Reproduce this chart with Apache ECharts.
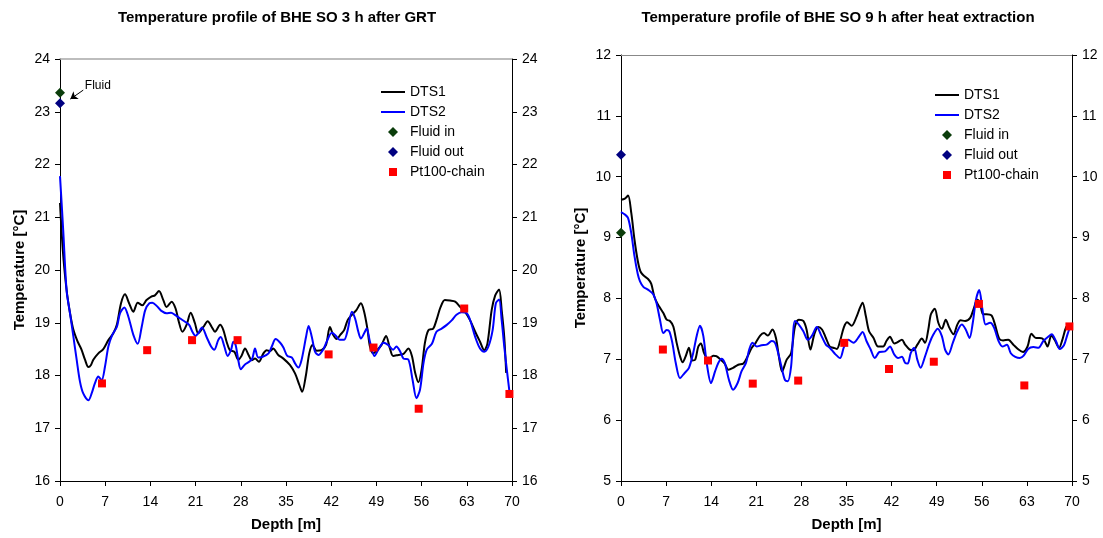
<!DOCTYPE html>
<html><head><meta charset="utf-8">
<script src="https://cdn.jsdelivr.net/npm/echarts@6/dist/echarts.min.js"></script>
<style>html,body{margin:0;padding:0;background:#fff}#c{width:1103px;height:538px}</style>
</head><body><div id="c"></div>
<script>
// ---------- DATA ----------
const titles = ['Temperature profile of BHE SO 3 h after GRT', 'Temperature profile of BHE SO 9 h after heat extraction'];
const legendNames = ['DTS1', 'DTS2', 'Fluid in', 'Fluid out', 'Pt100-chain'];
const depthTicks = [0, 7, 14, 21, 28, 35, 42, 49, 56, 63, 70];

// Left chart (3 h after GRT)
const dts1DepthA = [0,0.45,0.9,1.3,2.0,2.7,3.3,3.87,4.4,4.8,5.16,5.94,6.7,7.49,8.26,8.8,9.45,10.07,10.7,11.36,12.03,12.75,13.4,14.2,14.7,15.33,16.0,16.5,17.3,17.9,18.4,18.95,19.6,20.24,20.9,21.4,22.2,22.87,23.5,24.0,24.8,25.3,25.8,26.3,27.0,27.6,28.1,28.65,29.2,29.7,30.2,30.8,31.5,32.0,32.5,33.0,33.8,34.6,35.6,36.4,37.07,37.5,38.05,38.6,39.1,39.75,40.5,41.2,41.8,42.3,42.85,43.4,44.0,44.55,45.2,45.9,46.6,47.1,47.6,48.0,48.5,49.1,49.8,50.5,51.1,51.6,52.4,53.2,53.95,54.5,55.0,55.5,56.0,56.5,57.05,57.8,58.3,58.95,59.6,60.4,61.2,61.95,62.7,63.5,64.3,65.05,65.7,66.2,66.85,67.4,68.0,68.4,68.8,69.1];
const dts1TempA  = [21.27,20.35,19.75,19.37,18.9,18.65,18.5,18.3,18.16,18.2,18.3,18.42,18.5,18.67,18.8,18.96,19.37,19.54,19.37,19.21,19.38,19.33,19.43,19.5,19.52,19.6,19.43,19.3,19.4,19.27,19.02,18.83,18.96,19.19,18.99,18.8,18.92,19.03,18.92,18.83,18.96,18.86,18.64,18.48,18.45,18.3,18.37,18.51,18.39,18.29,18.32,18.26,18.42,18.48,18.46,18.51,18.39,18.32,18.2,18.04,17.82,17.69,17.98,18.42,18.58,18.47,18.48,18.58,18.92,18.77,18.69,18.77,18.86,19.05,19.15,19.24,19.37,19.21,18.89,18.55,18.42,18.48,18.58,18.75,18.51,18.37,18.39,18.41,18.51,18.37,18.05,17.87,18.11,18.61,18.86,18.89,19.05,19.3,19.43,19.42,19.4,19.3,19.21,19.05,18.83,18.64,18.48,18.61,19.24,19.52,19.63,19.24,18.73,18.05];
const dts2DepthA = [0,0.5,1.03,1.55,2.07,2.58,3.1,3.6,4.4,4.9,5.4,5.94,6.45,6.97,7.49,8.1,8.8,9.3,9.96,10.6,11.36,12.03,12.65,13.2,13.84,14.3,14.97,15.64,16.5,17.2,17.8,18.6,19.36,20.0,20.5,21.0,21.4,22.0,22.7,23.4,23.9,24.5,24.9,25.45,25.97,26.5,26.85,27.2,27.6,28.0,28.65,29.4,29.8,30.2,30.7,31.3,32.3,32.8,33.4,34.1,34.6,35.2,35.9,36.4,36.9,37.4,38.1,38.5,39.0,39.5,40.0,40.7,41.3,42.1,42.6,43.3,44.0,44.55,45.2,45.7,46.2,46.6,47.1,47.5,48.0,48.7,49.3,50.1,50.8,51.6,52.1,52.7,53.2,53.95,54.6,55.2,55.75,56.3,56.8,57.6,58.3,59.1,59.9,60.7,61.4,62.2,63.0,63.6,64.3,65.05,65.7,66.35,67.0,67.5,68.0,68.4,68.8,69.2,69.6];
const dts2TempA  = [21.78,20.75,19.6,19.18,18.74,18.3,17.88,17.66,17.53,17.66,17.85,17.98,17.91,18.17,18.55,18.77,18.92,19.18,19.29,19.11,18.77,18.6,18.92,19.24,19.37,19.38,19.32,19.23,19.18,19.19,19.15,19.08,19.02,18.96,18.83,18.75,18.8,18.91,18.73,18.55,18.49,18.67,18.73,18.55,18.37,18.49,18.64,18.58,18.3,18.12,18.21,18.27,18.33,18.51,18.34,18.35,18.42,18.55,18.69,18.62,18.53,18.37,18.34,18.23,18.15,18.29,18.73,18.94,18.73,18.45,18.39,18.48,18.64,18.81,18.77,18.68,18.68,18.86,19.21,19.08,18.83,18.7,18.8,18.89,18.64,18.37,18.49,18.62,18.58,18.49,18.55,18.45,18.32,18.3,17.92,17.57,17.73,18.24,18.49,18.6,18.83,18.89,18.96,19.05,19.15,19.2,19.18,19.02,18.73,18.51,18.45,18.55,18.86,19.37,19.44,19.05,18.55,18.11,17.7];
const fluidInA = 23.36;
const fluidOutA = 23.16;

// Right chart (9 h after heat extraction)
const dts1DepthB = [0,0.6,1.1,1.6,2.1,2.6,3.0,3.47,4.2,4.7,5.2,5.9,6.57,7.09,7.6,8.12,8.64,9.16,9.57,10.04,10.55,11.07,11.5,12.0,12.4,12.9,13.55,14.3,14.8,15.5,16.1,16.66,17.4,18.2,19.0,19.66,20.3,20.9,21.6,22.2,22.8,23.5,24.05,24.5,25.0,25.7,26.4,27.0,27.6,28.3,28.8,29.4,30.0,30.6,31.2,31.8,32.4,32.95,33.5,34.0,34.6,35.1,35.8,36.6,37.1,37.5,38.0,38.5,39.2,39.9,40.7,41.2,41.75,42.4,42.9,43.6,44.1,44.8,45.4,46.0,46.7,47.2,47.7,48.1,48.7,49.25,49.8,50.4,50.95,51.6,52.2,52.7,53.4,54.2,54.8,55.3,55.7,56.2,56.75,57.5,58.05,58.7,59.3,60.1,60.9,61.7,62.4,63.1,63.7,64.4,65.0,65.65,66.2,66.8,67.3,68.0,68.5,69.1,69.6];
const dts1TempB  = [9.62,9.64,9.69,9.4,8.96,8.62,8.45,8.38,8.32,8.24,8.02,7.87,7.76,7.65,7.63,7.54,7.27,7.05,6.95,7.05,7.19,6.98,6.99,7.21,7.26,7.1,6.99,7.06,7.05,6.99,6.93,6.83,6.86,6.91,6.93,7.05,7.19,7.27,7.39,7.43,7.39,7.49,7.35,7.05,6.8,6.99,7.1,7.54,7.65,7.63,7.49,7.16,7.41,7.53,7.49,7.35,7.21,7.19,7.17,7.3,7.53,7.61,7.55,7.71,7.85,7.93,7.71,7.46,7.35,7.21,7.21,7.3,7.37,7.26,7.28,7.32,7.24,7.16,7.15,7.24,7.34,7.27,7.49,7.74,7.83,7.6,7.5,7.65,7.52,7.41,7.57,7.64,7.63,7.68,7.85,7.98,7.93,7.74,7.74,7.72,7.57,7.34,7.31,7.32,7.24,7.16,7.12,7.21,7.42,7.35,7.35,7.32,7.21,7.39,7.32,7.19,7.32,7.53,7.57];
const dts2DepthB = [0,0.6,1.1,1.6,2.1,2.6,2.95,3.47,4.24,5.0,5.5,6.05,6.57,7.09,7.5,7.97,8.5,9.16,9.83,10.55,11.2,11.74,12.26,12.78,13.3,13.97,14.6,15.1,15.6,16.1,16.76,17.4,18.1,18.7,19.4,19.9,20.4,21.05,21.8,22.6,23.4,23.9,24.4,24.9,25.45,25.9,26.4,27.0,27.6,28.3,29.0,29.6,30.4,31.0,31.8,32.4,33.2,34.0,34.6,35.3,36.1,36.8,37.5,38.1,38.75,39.4,40.1,41.0,41.75,42.4,43.0,43.6,44.1,44.5,44.97,45.5,46.0,46.5,47.2,47.9,48.5,49.15,49.8,50.3,50.8,51.5,52.2,52.9,53.5,54.1,54.6,55.1,55.6,56.1,56.6,57.3,57.9,58.6,59.2,59.9,60.5,61.2,61.9,62.5,63.2,64.0,64.8,65.55,66.3,66.85,67.5,68.1,68.75,69.3,69.7];
const dts2TempB  = [9.42,9.38,9.32,9.07,8.69,8.4,8.28,8.19,8.14,8.07,7.93,7.65,7.43,7.48,7.46,7.27,6.94,6.69,6.77,6.86,7.1,7.38,7.55,7.38,6.94,6.61,6.8,6.94,7.01,6.94,6.66,6.5,6.61,6.8,6.94,7.16,7.27,7.21,7.23,7.24,7.3,7.27,7.1,6.88,6.66,6.64,6.88,7.63,7.57,7.46,7.32,7.38,7.53,7.41,7.24,7.19,7.09,7.02,7.2,7.32,7.27,7.35,7.45,7.3,7.16,7.02,7.12,7.13,7.21,7.08,7.02,7.04,6.94,6.93,7.1,7.19,6.99,6.86,7.05,7.27,7.41,7.5,7.38,7.16,7.08,7.27,7.46,7.57,7.49,7.35,7.6,7.98,8.14,7.82,7.57,7.6,7.52,7.3,7.21,7.24,7.1,7.04,7.02,7.06,7.17,7.2,7.19,7.3,7.37,7.41,7.3,7.17,7.23,7.41,7.53];
const fluidInB = 9.08;
const fluidOutB = 10.36;

// Pt100-chain sensors
const ptDepth = [6.5, 13.5, 20.45, 27.5, 34.65, 41.6, 48.55, 55.55, 62.6, 69.6];
const ptTempA = [17.85, 18.48, 18.67, 18.67, null, 18.4, 18.53, 17.37, 19.27, 17.65];
const ptTempB = [7.16, 6.98, 6.6, 6.65, 7.27, 6.84, 6.96, 7.91, 6.57, 7.54];

// ---------- CHART ----------
const FONT = '"Liberation Sans", Arial, sans-serif';
const zip = (xs, ys) => xs.map((x, i) => [x, ys[i]]);

const grids = [
  {left: 60, top: 59, width: 452, height: 422, yMin: 16, yMax: 24},
  {left: 621, top: 55, width: 451, height: 426, yMin: 5, yMax: 12}
];

const xAxes = [], yAxes = [];
grids.forEach((g, i) => {
  xAxes.push({
    gridIndex: i, type: 'value', position: 'bottom', min: 0, max: 70, interval: 7,
    axisLine: {onZero: false, lineStyle: {color: '#000', width: 1}},
    axisTick: {show: true, length: 5, lineStyle: {color: '#000'}},
    axisLabel: {fontSize: 14, color: '#000', margin: 14, fontFamily: FONT,
                formatter: v => depthTicks.includes(v) ? String(v) : ''},
    splitLine: {show: false},
    name: 'Depth [m]', nameLocation: 'middle', nameGap: 36,
    nameTextStyle: {fontSize: 15, fontWeight: 'bold', color: '#000', fontFamily: FONT}
  });
  xAxes.push({
    gridIndex: i, type: 'value', position: 'top', min: 0, max: 70,
    axisLine: {onZero: false, lineStyle: {color: i === 0 ? '#a8a8a8' : '#888', width: i === 0 ? 1.5 : 1}},
    axisTick: {show: false}, axisLabel: {show: false}, splitLine: {show: false}
  });
  const common = {gridIndex: i, type: 'value', min: g.yMin, max: g.yMax, interval: 1, splitLine: {show: false}};
  yAxes.push(Object.assign({}, common, {
    position: 'left',
    axisLine: {show: true, onZero: false, lineStyle: {color: '#000'}},
    axisTick: {show: true, length: 5, lineStyle: {color: '#000'}},
    axisLabel: {fontSize: 14, color: '#000', margin: 10, fontFamily: FONT},
    name: 'Temperature [°C]', nameLocation: 'middle', nameGap: 33, nameRotate: 90,
    nameTextStyle: {fontSize: 15, fontWeight: 'bold', color: '#000', fontFamily: FONT}
  }));
  yAxes.push(Object.assign({}, common, {
    position: 'right',
    axisLine: {show: true, onZero: false, lineStyle: {color: '#000'}},
    axisTick: {show: true, length: 5, lineStyle: {color: '#000'}},
    axisLabel: {fontSize: 14, color: '#000', margin: 10, fontFamily: FONT}
  }));
  yAxes.push(Object.assign({}, common, {
    position: 'right',
    axisLine: {show: false},
    axisTick: {show: true, inside: true, length: 5, lineStyle: {color: '#000'}},
    axisLabel: {show: false}
  }));
});

function seriesFor(i, d1, t1, d2, t2, fIn, fOut, ptT) {
  const xi = i * 2, yi = i * 3;
  const base = {xAxisIndex: xi, yAxisIndex: yi};
  const fluidIn = Object.assign({}, base, {
    name: 'Fluid in', type: 'scatter', symbol: 'diamond', symbolSize: 10, clip: false, z: 5,
    itemStyle: {color: '#0b3d0b', opacity: 1}, data: [[0, fIn]]
  });
  if (i === 0) {
    fluidIn.markLine = {
      silent: true, symbol: ['none', 'arrow'], symbolSize: 7,
      lineStyle: {color: '#000', width: 1, type: 'solid'}, label: {show: false},
      data: [[{coord: [3.6, 23.41]}, {coord: [1.6, 23.24]}]]
    };
    fluidIn.markPoint = {
      silent: true, symbol: 'rect', symbolSize: 0,
      label: {show: true, position: 'right', distance: 0, formatter: 'Fluid', color: '#000', fontSize: 12, fontFamily: FONT},
      data: [{coord: [3.85, 23.49]}]
    };
  }
  return [
    Object.assign({}, base, {name: 'DTS1', type: 'line', smooth: 0.3, symbol: 'none',
      lineStyle: {color: '#000', width: 2}, itemStyle: {color: '#000'}, data: zip(d1, t1)}),
    Object.assign({}, base, {name: 'DTS2', type: 'line', smooth: 0.3, symbol: 'none',
      lineStyle: {color: '#0000ff', width: 2}, itemStyle: {color: '#0000ff'}, data: zip(d2, t2)}),
    fluidIn,
    Object.assign({}, base, {name: 'Fluid out', type: 'scatter', symbol: 'diamond', symbolSize: 10, clip: false, z: 5,
      itemStyle: {color: '#000080', opacity: 1}, data: [[0, fOut]]}),
    Object.assign({}, base, {name: 'Pt100-chain', type: 'scatter', symbol: 'rect', symbolSize: 8, clip: false, z: 4,
      itemStyle: {color: '#ff0000', opacity: 1}, data: zip(ptDepth, ptT).filter(p => p[1] !== null)})
  ];
}

// legend icons (24 x 10 box): short line, diamond, small square
const ICON_LINE = 'path://M0,0M24,10M0,4L24,4L24,6L0,6Z';
const ICON_DIAMOND = 'path://M0,0M24,10M12,0L17,5L12,10L7,5Z';
const ICON_SQUARE = 'path://M0,0M24,10M8,1L16,1L16,9L8,9Z';
const legendIcons = [ICON_LINE, ICON_LINE, ICON_DIAMOND, ICON_DIAMOND, ICON_SQUARE];

const legendBase = {
  orient: 'vertical', itemWidth: 24, itemHeight: 10, itemGap: 6, padding: 0, selectedMode: false,
  symbolKeepAspect: false,
  itemStyle: {borderWidth: 0},
  textStyle: {fontSize: 14, color: '#000', fontFamily: FONT},
  data: legendNames.map((n, k) => ({name: n, icon: legendIcons[k]}))
};

const option = {
  animation: false,
  backgroundColor: '#fff',
  title: [
    {text: titles[0], left: 272, top: 5, textAlign: 'center', textStyle: {fontSize: 15, fontWeight: 'bold', color: '#000', fontFamily: FONT}},
    {text: titles[1], left: 833, top: 5, textAlign: 'center', textStyle: {fontSize: 15, fontWeight: 'bold', color: '#000', fontFamily: FONT}}
  ],
  legend: [
    Object.assign({}, legendBase, {left: 381, top: 85}),
    Object.assign({}, legendBase, {left: 935, top: 88})
  ],
  grid: grids.map(g => ({left: g.left, top: g.top, width: g.width, height: g.height, containLabel: false})),
  xAxis: xAxes,
  yAxis: yAxes,
  series: [].concat(
    seriesFor(0, dts1DepthA, dts1TempA, dts2DepthA, dts2TempA, fluidInA, fluidOutA, ptTempA),
    seriesFor(1, dts1DepthB, dts1TempB, dts2DepthB, dts2TempB, fluidInB, fluidOutB, ptTempB)
  )
};

const chart = echarts.init(document.getElementById('c'), null, {renderer: 'canvas'});
chart.setOption(option);
</script>
</body></html>
